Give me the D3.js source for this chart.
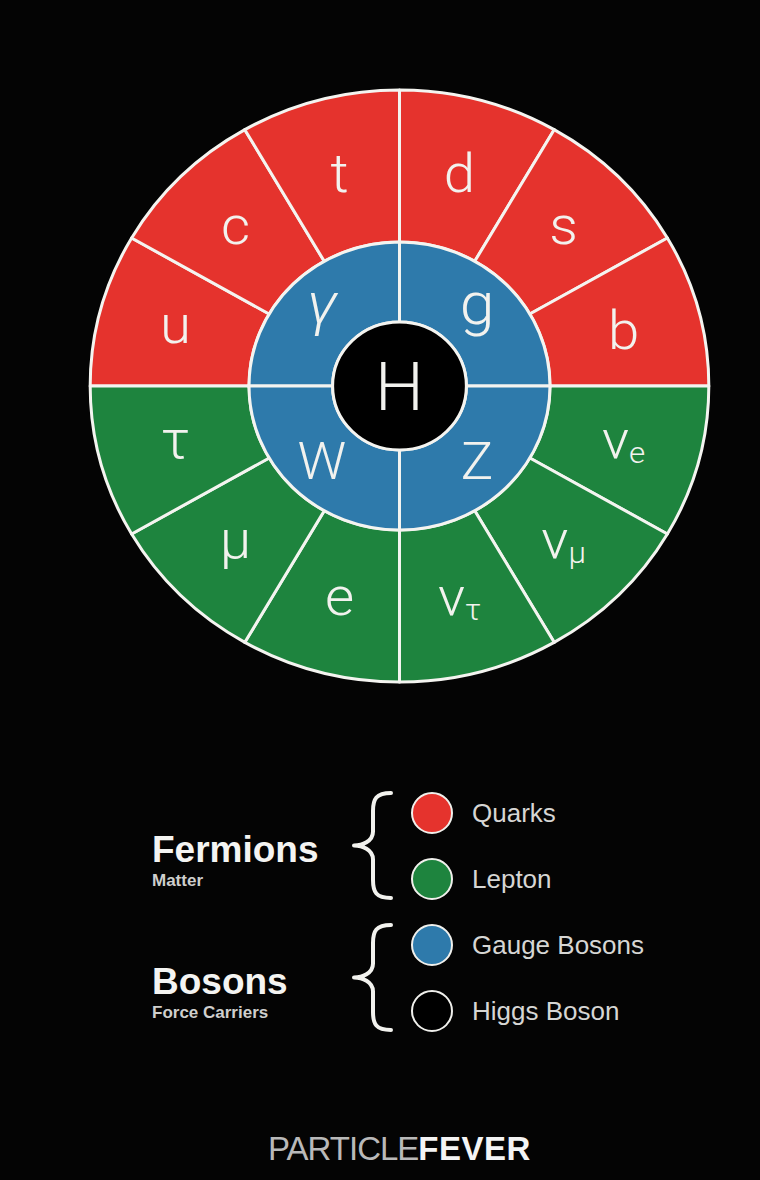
<!DOCTYPE html>
<html>
<head>
<meta charset="utf-8">
<script src="https://cdn.jsdelivr.net/npm/d3@7"></script>
<style>
  html, body { margin: 0; padding: 0; background: #040404; }
  svg { display: block; }
</style>
</head>
<body>
<svg id="chart" width="760" height="1180"></svg>
<script>
// ---------- data ----------
const quarks = ["u", "c", "t", "d", "s", "b"];              // clockwise from 9 o'clock
const leptonSymbols = ["ν", "ν", "ν", "e", "μ", "τ"];       // clockwise from 3 o'clock
const leptonSubs    = ["e", "μ", "τ", "", "", ""];
const gaugeBosons = ["γ", "g", "Z", "W"];                   // clockwise from 9 o'clock
const higgs = "H";

const legendLabels = ["Quarks", "Lepton", "Gauge Bosons", "Higgs Boson"];
const legendKeys   = ["quark", "lepton", "gauge", "higgs"];
const groupNames = ["Fermions", "Bosons"];
const groupSubs  = ["Matter", "Force Carriers"];
const footerLight = "PARTICLE";
const footerBold  = "FEVER";

// ---------- styles ----------
const color = d3.scaleOrdinal()
  .domain(["quark", "lepton", "gauge", "higgs"])
  .range(["#E5332D", "#1E843E", "#2E7AAB", "#000000"]);

const W = 760, H = 1180;
const cx = 399.5, cy = 386, SX = 1.045;
const rOuter = 296, rMid = 144, rCore = 64;
const lightFont = "Roboto, 'Open Sans', 'Liberation Sans', sans-serif";
const sansFont = "'Liberation Sans', Arial, Helvetica, sans-serif";

const svg = d3.select("#chart");
svg.append("rect").attr("width", W).attr("height", H).attr("fill", "#040404");

const chart = svg.append("g")
  .attr("transform", `translate(${cx},${cy}) scale(${SX},1)`);

// outer ring
const outerArc = d3.arc().innerRadius(rMid).outerRadius(rOuter);
const outerLabelArc = d3.arc().innerRadius(222).outerRadius(222);

const quarkPie = d3.pie().value(() => 1).sort(null)
  .startAngle(-Math.PI / 2).endAngle(Math.PI / 2)(quarks);
const leptonPie = d3.pie().value(() => 1).sort(null)
  .startAngle(Math.PI / 2).endAngle(3 * Math.PI / 2)(leptonSymbols.map((s, i) => ({ s, sub: leptonSubs[i] })));

function drawSegments(data, key) {
  chart.append("g").selectAll("path").data(data).join("path")
    .attr("d", outerArc)
    .attr("fill", color(key))
    .attr("stroke", "#f4f4f0")
    .attr("stroke-width", 3)
    .attr("stroke-linejoin", "round")
    .attr("vector-effect", "non-scaling-stroke");
}
drawSegments(quarkPie, "quark");
drawSegments(leptonPie, "lepton");

// inner ring
const midArc = d3.arc().innerRadius(rCore).outerRadius(rMid);
const midLabelArc = d3.arc().innerRadius(105).outerRadius(105);
const gaugePie = d3.pie().value(() => 1).sort(null)
  .startAngle(-Math.PI / 2).endAngle(3 * Math.PI / 2)(gaugeBosons);

chart.append("g").selectAll("path").data(gaugePie).join("path")
  .attr("d", midArc)
  .attr("fill", color("gauge"))
  .attr("stroke", "#f4f4f0")
  .attr("stroke-width", 3)
  .attr("vector-effect", "non-scaling-stroke");

// core
chart.append("circle")
  .attr("r", rCore)
  .attr("fill", color("higgs"))
  .attr("stroke", "#f4f4f0")
  .attr("stroke-width", 3)
  .attr("vector-effect", "non-scaling-stroke");

// labels
const labelColor = "#f2f2ee";
chart.append("g").selectAll("text").data(quarkPie).join("text")
  .attr("x", d => outerLabelArc.centroid(d)[0])
  .attr("y", d => outerLabelArc.centroid(d)[1])
  .attr("dy", d => /[tdb]/.test(d.data) ? "0.38em" : "0.27em")
  .attr("text-anchor", "middle")
  .attr("font-family", lightFont)
  .attr("font-weight", 300)
  .attr("font-size", 54)
  .attr("fill", labelColor)
  .text(d => d.data);

const lt = chart.append("g").selectAll("text").data(leptonPie).join("text")
  .attr("x", d => outerLabelArc.centroid(d)[0])
  .attr("y", d => outerLabelArc.centroid(d)[1])
  .attr("dy", "0.27em")
  .attr("text-anchor", "middle")
  .attr("font-family", lightFont)
  .attr("font-weight", 300)
  .attr("font-size", 54)
  .attr("fill", labelColor);
lt.append("tspan").text(d => d.data.s);
lt.filter(d => d.data.sub).append("tspan")
  .attr("font-size", 30)
  .attr("dy", 5)
  .text(d => d.data.sub);

chart.append("g").selectAll("text").data(gaugePie).join("text")
  .attr("x", d => midLabelArc.centroid(d)[0])
  .attr("y", d => midLabelArc.centroid(d)[1])
  .attr("dy", d => (d.data === "γ" || d.data === "g") ? "0.2em" : "0.36em")
  .attr("text-anchor", "middle")
  .attr("font-family", lightFont)
  .attr("font-weight", 300)
  .attr("font-style", d => d.data === "γ" ? "italic" : "normal")
  .attr("font-size", d => (d.data === "γ" || d.data === "g") ? 60 : 52)
  .attr("fill", labelColor)
  .text(d => d.data);

chart.append("text")
  .attr("x", 0).attr("y", 0).attr("dy", "0.36em")
  .attr("text-anchor", "middle")
  .attr("font-family", lightFont)
  .attr("font-weight", 300)
  .attr("font-size", 66)
  .attr("fill", labelColor)
  .text(higgs);

// ---------- legend ----------
const ly = d3.scalePoint().domain(legendLabels).range([813, 1011]);
const legendX = 432, legendR = 20;
const legend = svg.append("g");

legend.selectAll("circle").data(legendLabels).join("circle")
  .attr("cx", legendX)
  .attr("cy", d => ly(d))
  .attr("r", legendR)
  .attr("fill", (d, i) => color(legendKeys[i]))
  .attr("stroke", "#f0f0ec")
  .attr("stroke-width", 2);

legend.selectAll("text.item").data(legendLabels).join("text")
  .attr("class", "item")
  .attr("x", 472)
  .attr("y", d => ly(d) + 9)
  .attr("font-family", sansFont)
  .attr("font-size", 26)
  .attr("fill", "#d6d6d4")
  .text(d => d);

// braces + group titles
groupNames.forEach((name, gi) => {
  const yTop = ly(legendLabels[gi * 2]) - 20;
  const yBot = ly(legendLabels[gi * 2 + 1]) + 19;
  const ym = (yTop + yBot) / 2;
  const xr = 391, xv = 373, xp = 354;
  const p = d3.path();
  p.moveTo(xr, yTop);
  p.bezierCurveTo(xv + 3, yTop, xv, yTop + 6, xv, yTop + 18);
  p.lineTo(xv, ym - 14);
  p.bezierCurveTo(xv, ym - 4, xp + 8, ym, xp, ym);
  p.bezierCurveTo(xp + 8, ym, xv, ym + 4, xv, ym + 14);
  p.lineTo(xv, yBot - 18);
  p.bezierCurveTo(xv, yBot - 6, xv + 3, yBot, xr, yBot);
  legend.append("path")
    .attr("d", p.toString())
    .attr("fill", "none")
    .attr("stroke", "#f2f2ee")
    .attr("stroke-width", 4)
    .attr("stroke-linecap", "round")
    .attr("stroke-linejoin", "round");

  legend.append("text")
    .attr("x", 152)
    .attr("y", ym + 16)
    .attr("font-family", sansFont)
    .attr("font-weight", 700)
    .attr("font-size", 37)
    .attr("fill", "#f4f4f2")
    .text(name);
  legend.append("text")
    .attr("x", 152)
    .attr("y", ym + 40)
    .attr("font-family", sansFont)
    .attr("font-weight", 700)
    .attr("font-size", 17)
    .attr("fill", "#cfcfcd")
    .text(groupSubs[gi]);
});

// ---------- footer ----------
const footer = svg.append("text")
  .attr("x", 268)
  .attr("y", 1160)
  .attr("font-family", sansFont)
  .attr("font-size", 33);
footer.append("tspan")
  .attr("fill", "#b9b9b9")
  .attr("letter-spacing", -1)
  .text(footerLight);
footer.append("tspan")
  .attr("fill", "#f4f4f4")
  .attr("font-weight", 700)
  .attr("letter-spacing", 0.5)
  .text(footerBold);
</script>
</body>
</html>
